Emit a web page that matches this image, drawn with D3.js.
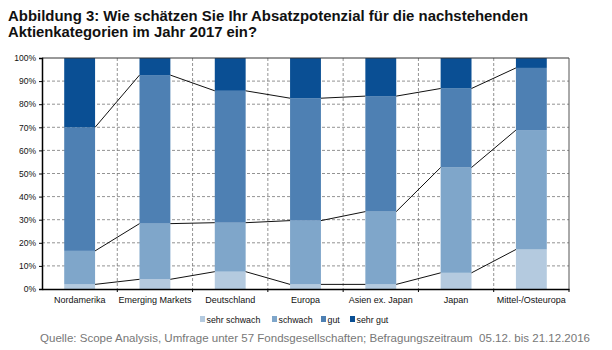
<!DOCTYPE html>
<html><head><meta charset="utf-8">
<script src="https://cdn.jsdelivr.net/npm/d3@7"></script>
<style>body{margin:0;background:#fff;font-family:Arial,"Liberation Sans",sans-serif}</style>
</head><body>
<svg id="c" width="612" height="350"></svg>
<script>
const categories = ["Nordamerika","Emerging Markets","Deutschland","Europa","Asien ex. Japan","Japan","Mittel-/Osteuropa"];
const seriesNames = ["sehr schwach","schwach","gut","sehr gut"];
const sehrSchwach = [2, 4.2, 7.5, 2, 2, 7, 17.1];
const schwach     = [14.5, 24.1, 21.2, 27.6, 31.5, 45.6, 51.7];
const gut         = [53.5, 64.3, 57.1, 53, 50, 34.2, 26.9];
const sehrGut     = [30, 7.4, 14.2, 17.4, 16.5, 13.2, 4.3];
const yTicks = [0,10,20,30,40,50,60,70,80,90,100];
const colors = ["#b4cadf","#7fa6ca","#4e80b3","#0a4f94"];

const svg = d3.select("#c");
const L=42, R=569, T=58, B=289;
const x = d3.scaleBand().domain(categories).range([L,R]).paddingInner(0.59).paddingOuter(0.295);
const xOuter = d3.scaleBand().domain(categories).range([L,R]);
const y = d3.scaleLinear().domain([0,100]).range([B,T]);

// title
svg.append("text").attr("x",8).attr("y",20.5).attr("font-size",15.5).attr("font-weight","bold").attr("fill","#111")
  .attr("textLength",520).attr("lengthAdjust","spacingAndGlyphs")
  .text("Abbildung 3: Wie schätzen Sie Ihr Absatzpotenzial für die nachstehenden");
svg.append("text").attr("x",8).attr("y",37).attr("font-size",15.5).attr("font-weight","bold").attr("fill","#111")
  .attr("textLength",249).attr("lengthAdjust","spacingAndGlyphs")
  .text("Aktienkategorien im Jahr 2017 ein?");

// grid
const g = svg.append("g");
yTicks.filter(d=>d>0&&d<100).forEach(t=>{
  g.append("line").attr("x1",L).attr("x2",R).attr("y1",y(t)).attr("y2",y(t))
   .attr("stroke","#777").attr("stroke-dasharray","3,2").attr("stroke-width",0.8);
});
categories.slice(1).forEach(c=>{
  g.append("line").attr("x1",xOuter(c)).attr("x2",xOuter(c)).attr("y1",T).attr("y2",B)
   .attr("stroke","#777").attr("stroke-dasharray","3,2").attr("stroke-width",0.8);
});

// stack
const rows = categories.map((c,i)=>({cat:c,"sehr schwach":sehrSchwach[i],"schwach":schwach[i],"gut":gut[i],"sehr gut":sehrGut[i]}));
const stacked = d3.stack().keys(seriesNames)(rows);
stacked.forEach((s,si)=>{
  svg.append("g").selectAll("rect").data(s).enter().append("rect")
    .attr("x",d=>x(d.data.cat)).attr("width",x.bandwidth())
    .attr("y",d=>y(d[1])).attr("height",d=>y(d[0])-y(d[1]))
    .attr("fill",colors[si]);
});
// connector lines
stacked.slice(0,3).forEach(s=>{
  for(let i=0;i<s.length-1;i++){
    svg.append("line")
      .attr("x1",x(s[i].data.cat)+x.bandwidth()).attr("y1",y(s[i][1]))
      .attr("x2",x(s[i+1].data.cat)).attr("y2",y(s[i+1][1]))
      .attr("stroke","#111").attr("stroke-width",1);
  }
});

// frame
svg.append("line").attr("x1",L).attr("x2",R).attr("y1",T).attr("y2",T).attr("stroke","#333").attr("stroke-width",1);
svg.append("line").attr("x1",R).attr("x2",R).attr("y1",T).attr("y2",B).attr("stroke","#555").attr("stroke-width",1);

// axes
const yAxis = svg.append("g").attr("transform",`translate(${L},0)`)
  .call(d3.axisLeft(y).tickValues(yTicks).tickFormat(d=>d+"%").tickSize(3).tickPadding(3));
yAxis.select(".domain").attr("stroke","#000").attr("stroke-width",1.5);
yAxis.selectAll("text").attr("font-size",8.5).attr("font-family","Arial,'Liberation Sans',sans-serif").attr("fill","#111");

const xAxis = svg.append("g").attr("transform",`translate(0,${B})`)
  .call(d3.axisBottom(xOuter).tickSize(0).tickPadding(8));
xAxis.select(".domain").attr("stroke","#000").attr("stroke-width",1.5);
xAxis.selectAll("text").attr("font-size",9).attr("font-family","Arial,'Liberation Sans',sans-serif").attr("fill","#111");
categories.slice(1).concat([null]).forEach(c=>{
  const xx = c? xOuter(c) : R;
  svg.append("line").attr("x1",xx).attr("x2",xx).attr("y1",B).attr("y2",B+3).attr("stroke","#000");
});

// legend
const legX = [200,272,321,350];
seriesNames.forEach((n,i)=>{
  svg.append("rect").attr("x",legX[i]).attr("y",316).attr("width",5).attr("height",6).attr("fill",colors[i]);
  svg.append("text").attr("x",legX[i]+6.5).attr("y",322.5).attr("font-size",8.8).attr("fill","#111").text(n);
});

// source
svg.append("text").attr("x",40).attr("y",342).attr("font-size",11.2).attr("fill","#777")
  .attr("xml:space","preserve").style("white-space","pre")
  .attr("textLength",550).attr("lengthAdjust","spacingAndGlyphs")
  .text("Quelle: Scope Analysis, Umfrage unter 57 Fondsgesellschaften; Befragungszeitraum  05.12. bis 21.12.2016");
</script>
</body></html>
